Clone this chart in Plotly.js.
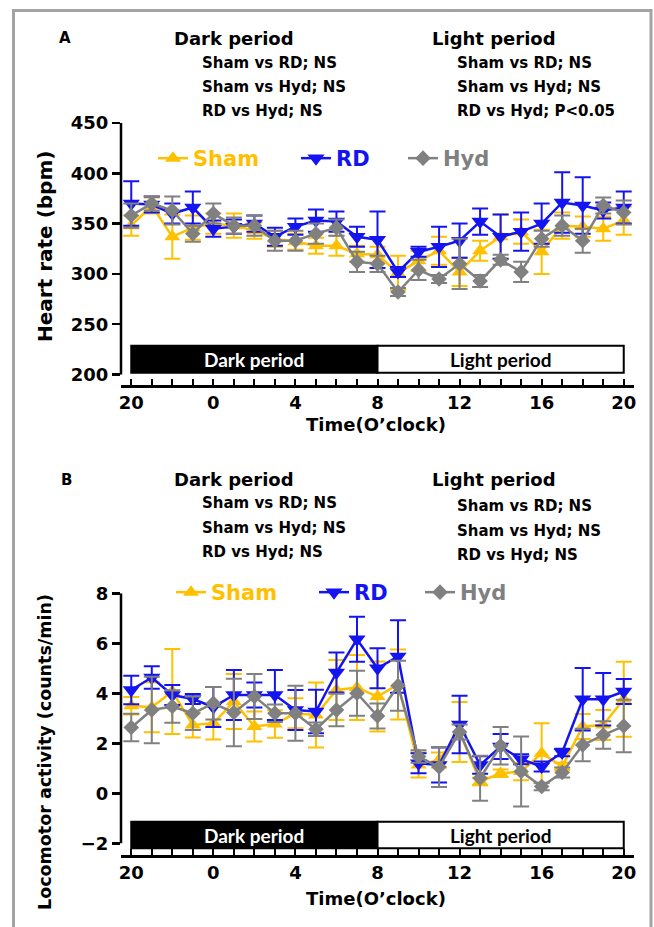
<!DOCTYPE html>
<html><head><meta charset="utf-8">
<script src="https://cdn.plot.ly/plotly-3.0.1.min.js"></script>
<style>html,body{margin:0;padding:0;background:#fff}</style>
</head><body><div id="chart" style="width:654px;height:927px"></div>
<script>
// ---------- data ----------
const hours = [20,21,22,23,0,1,2,3,4,5,6,7,8,9,10,11,12,13,14,15,16,17,18,19,20];
const groupNames = ['Sham','RD','Hyd'];

// Panel A: heart rate (bpm), mean and SEM
const hrSham = [348,368,337,346,350,348,343,335,332,328,328,320,319,301,313,323,302,323,337,342,322,348,347,345,353];
const hrRD   = [370,369,360,366,345,347,350,337,347,353,352,337,334,302,322,327,333,352,337,342,350,371,368,363,366];
const hrHyd  = [358,370,363,340,360,348,348,333,333,340,346,312,310,282,304,295,310,293,314,302,335,348,333,368,361];
const hrShamErr = [10,8,22,12,10,12,8,8,8,8,10,8,8,17,10,14,14,10,22,12,22,13,10,12,14];
const hrRDErr   = [22,8,10,16,8,7,8,9,8,11,10,10,28,5,5,20,17,13,22,19,20,30,28,8,16];
const hrHydErr  = [12,7,14,8,10,8,10,10,10,10,8,10,8,4,10,4,25,6,5,10,8,10,12,8,12];

// Panel B: locomotor activity (counts/min), mean and SEM
const laSham = [3.5,3.44,4.07,2.73,2.8,3.67,2.67,2.77,3.2,3.13,4.13,4.23,3.87,4.35,1.13,1.33,2.45,0.47,0.8,0.87,1.6,1.07,2.67,2.73,3.76];
const laRD   = [4.13,4.63,3.93,3.77,3.45,3.93,3.93,3.93,3.33,3.27,4.83,6.16,5.0,5.47,1.2,1.13,2.75,1.13,1.87,1.36,1.07,1.63,3.76,3.76,4.07];
const laHyd  = [2.63,3.33,3.47,3.2,3.6,3.23,3.87,3.2,3.2,2.56,3.33,4.0,3.09,4.3,1.47,1.05,2.45,0.6,1.9,0.87,0.27,0.83,1.93,2.33,2.69];
const laShamErr = [0.35,1.0,1.7,0.5,0.65,1.1,0.6,0.55,0.6,1.3,1.2,1.3,1.4,1.4,0.5,0.3,1.2,0.15,0.15,0.35,1.2,0.15,0.5,0.6,1.5];
const laRDErr   = [0.57,0.45,0.4,0.2,0.8,1.0,0.5,1.0,0.8,0.87,0.8,0.9,0.8,1.45,0.4,0.7,1.15,0.35,0.5,0.2,0.2,0.15,1.25,1.05,0.5];
const laHydErr  = [0.55,1.33,0.65,0.67,0.65,1.35,0.9,0.35,1.1,0.27,0.65,0.9,0.5,1.0,0.25,0.8,0.3,0.9,0.75,1.4,0.15,0.2,0.65,0.55,1.05];

const hrTicks = [200,250,300,350,400,450];
const laTicks = [-2,0,2,4,6,8];
const periodLabels = ['Dark period','Light period'];
const statsDark = ['Sham vs RD; NS','Sham vs Hyd; NS','RD vs Hyd; NS'];
const statsLightA = ['Sham vs RD; NS','Sham vs Hyd; NS','RD vs Hyd; P<0.05'];
const statsLightB = ['Sham vs RD; NS','Sham vs Hyd; NS','RD vs Hyd; NS'];

// ---------- styling ----------
const W = 654, H = 927;
const fx = p => p / W;
const fy = p => 1 - p / H;
const FONT = 'DejaVu Sans, Liberation Sans, Arial, sans-serif';
const colors = {Sham:'#FFC000', RD:'#1414F0', Hyd:'#808080'};
const symbols = {Sham:'triangle-up', RD:'triangle-down', Hyd:'diamond'};
const msize = {Sham:14, RD:15, Hyd:12};

const xIdx = hours.map((h, i) => i);
const tickText = hours.map((h, i) => (i % 4 === 0 ? String(h) : ''));

const seriesA = {Sham:[hrSham,hrShamErr], RD:[hrRD,hrRDErr], Hyd:[hrHyd,hrHydErr]};
const seriesB = {Sham:[laSham,laShamErr], RD:[laRD,laRDErr], Hyd:[laHyd,laHydErr]};

const traces = [];
groupNames.forEach((g, k) => {
  traces.push({
    x: xIdx, y: seriesA[g][0], xaxis:'x', yaxis:'y', name: g,
    type:'scatter', mode:'lines+markers', showlegend:true,
    line:{color:colors[g], width:2.5},
    marker:{symbol:symbols[g], size:msize[g], color:colors[g]},
    error_y:{type:'data', array:seriesA[g][1], visible:true, color:colors[g], thickness:2, width:8},
    legend: k === 0 ? 'legend' : 'legend' + (k + 1),
    cliponaxis:false
  });
});
groupNames.forEach((g, k) => {
  traces.push({
    x: xIdx, y: seriesB[g][0], xaxis:'x2', yaxis:'y2', name: g,
    type:'scatter', mode:'lines+markers', showlegend:true,
    line:{color:colors[g], width:2.5},
    marker:{symbol:symbols[g], size:msize[g], color:colors[g]},
    error_y:{type:'data', array:seriesB[g][1], visible:true, color:colors[g], thickness:2, width:8},
    legend: 'legend' + (k + 4),
    cliponaxis:false
  });
});

function xaxisDef(anchor) {
  return {
    domain:[fx(121), fx(634)], range:[-0.5, 24.5], anchor:anchor,
    tickmode:'array', tickvals:xIdx, ticktext:tickText,
    ticks:'inside', ticklen:6, tickwidth:2, tickcolor:'#000',
    showline:true, linewidth:2.5, linecolor:'#000',
    showgrid:false, zeroline:false,
    tickfont:{family:FONT, size:18, weight:'bold', color:'#000'}
  };
}
function yaxisDef(anchor, dom, rng, tv) {
  return {
    domain:dom, range:rng, anchor:anchor,
    tickmode:'array', tickvals:tv,
    ticks:'outside', ticklen:8, tickwidth:2.5, tickcolor:'#000',
    showline:false, showgrid:false, zeroline:false,
    tickfont:{family:FONT, size:18, weight:'bold', color:'#000'}
  };
}

// legends: one per series so that each item sits where it does in the figure
const legendPos = [
  {x:153, y:138}, {x:296, y:138}, {x:403, y:138},
  {x:171, y:572}, {x:314, y:572}, {x:420, y:572}
];
const layout = {
  width:W, height:H, margin:{l:0,r:0,t:0,b:0}, showlegend:true,
  paper_bgcolor:'#fff', plot_bgcolor:'rgba(0,0,0,0)',
  xaxis: xaxisDef('y'),
  yaxis: yaxisDef('x', [fy(385), fy(123)], [189.6, 450], hrTicks),
  xaxis2: xaxisDef('y2'),
  yaxis2: yaxisDef('x2', [fy(855), fy(593.3)], [-2.47, 8], laTicks),
  shapes: [], annotations: []
};
legendPos.forEach((p, k) => {
  const key = k === 0 ? 'legend' : 'legend' + (k + 1);
  layout[key] = {
    x: fx(p.x), y: fy(p.y), xanchor:'left', yanchor:'top',
    orientation:'h', bgcolor:'rgba(0,0,0,0)', borderwidth:0, visible:true,
    font:{family:FONT, size:21, weight:'bold', color:colors[groupNames[k % 3]]},
    itemwidth:30
  };
});

// figure frame
layout.shapes.push({type:'rect', xref:'paper', yref:'paper', x0:fx(13.5), x1:fx(651), y0:fy(10.5), y1:-0.05,
  line:{color:'#a3a3a3', width:3}, fillcolor:'rgba(0,0,0,0)', layer:'below'});

// y axis lines (offset style)
layout.shapes.push({type:'line', xref:'x domain', yref:'y', x0:0, x1:0, y0:hrTicks[0], y1:hrTicks[hrTicks.length-1], line:{color:'#000', width:2.5}});
layout.shapes.push({type:'line', xref:'x2 domain', yref:'y2', x0:0, x1:0, y0:laTicks[0], y1:laTicks[laTicks.length-1], line:{color:'#000', width:2.5}});

// dark / light period bars
const bars = [
  {xr:'x', yr:'y', y0:201.8, y1:228.6},
  {xr:'x2', yr:'y2', y0:-2.2, y1:-1.14}
];
bars.forEach(b => {
  layout.shapes.push({type:'rect', xref:b.xr, yref:b.yr, x0:0, x1:12, y0:b.y0, y1:b.y1, fillcolor:'#000', line:{color:'#000', width:2}});
  layout.shapes.push({type:'rect', xref:b.xr, yref:b.yr, x0:12, x1:24, y0:b.y0, y1:b.y1, fillcolor:'#fff', line:{color:'#000', width:2}});
  layout.annotations.push({xref:b.xr, yref:b.yr, x:6, y:(b.y0+b.y1)/2, text:periodLabels[0], showarrow:false,
    font:{family:'Lato, Open Sans, sans-serif', size:19, weight:'bold', color:'#fff'}});
  layout.annotations.push({xref:b.xr, yref:b.yr, x:18, y:(b.y0+b.y1)/2, text:periodLabels[1], showarrow:false,
    font:{family:'Lato, Open Sans, sans-serif', size:19, weight:'bold', color:'#000'}});
});

function txt(t, x, y, size, extra) {
  layout.annotations.push(Object.assign({xref:'paper', yref:'paper', x:fx(x), y:fy(y), text:t, showarrow:false,
    xanchor:'left', yanchor:'middle', font:{family:FONT, size:size, weight:'bold', color:'#000'}}, extra || {}));
}
// Panel A header
txt('A', 57, 38, 15);
txt(periodLabels[0], 172, 38, 18);
txt(periodLabels[1], 430, 38, 18);
statsDark.forEach((s, i) => txt(s, 200, 63 + 24 * i, 15));
statsLightA.forEach((s, i) => txt(s, 455, 63 + 24 * i, 15));
// Panel B header
txt('B', 59, 480, 15);
txt(periodLabels[0], 172, 480, 18);
txt(periodLabels[1], 430, 480, 18);
statsDark.forEach((s, i) => txt(s, 200, 503 + 24.7 * i, 15));
statsLightB.forEach((s, i) => txt(s, 455, 506 + 24.5 * i, 15));

// axis titles
txt('Heart rate (bpm)', 45, 247, 20, {xanchor:'center', textangle:-90});
txt('Locomotor activity (counts/min)', 45, 752, 17.5, {xanchor:'center', textangle:-90});
txt('Time(O’clock)', 376, 424, 18, {xanchor:'center'});
txt('Time(O’clock)', 376, 898, 18, {xanchor:'center'});

Plotly.newPlot('chart', traces, layout, {displayModeBar:false, staticPlot:true});
</script></body></html>
